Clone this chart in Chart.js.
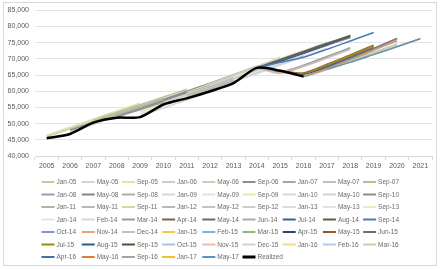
<!DOCTYPE html>
<html>
<head>
<meta charset="utf-8">
<script src="https://cdn.jsdelivr.net/npm/chart.js@4.4.0/dist/chart.umd.min.js"></script>
<style>
  body { margin: 0; background: #fff; }
  canvas { display: block; }
</style>
</head>
<body>
<canvas id="chart" width="441" height="269"></canvas>
<script>
// x axis categories
const years = ['2005','2006','2007','2008','2009','2010','2011','2012','2013','2014','2015','2016','2017','2018','2019','2020','2021'];

// forecast vintages (legend order)
const vintages = [
  'Jan-05','May-05','Sep-05','Jan-06','May-06','Sep-06','Jan-07','May-07','Sep-07',
  'Jan-08','May-08','Sep-08','Jan-09','May-09','Sep-09','Jan-10','May-10','Sep-10',
  'Jan-11','May-11','Sep-11','Jan-12','May-12','Sep-12','Jan-13','May-13','Sep-13',
  'Jan-14','Feb-14','Mar-14','Apr-14','May-14','Jun-14','Jul-14','Aug-14','Sep-14',
  'Oct-14','Nov-14','Dec-14','Jan-15','Feb-15','Mar-15','Apr-15','May-15','Jun-15',
  'Jul-15','Aug-15','Sep-15','Oct-15','Nov-15','Dec-15','Jan-16','Feb-16','Mar-16',
  'Apr-16','May-16','Sep-16','Jan-17','May-17'
];

// each forecast starts in its vintage year
const forecasts2005to2013 = [
  [46000, 48400, 50800, 53200, 55600],
  [46200, 48700, 51200, 53600, 56000],
  [46400, 48900, 51400, 53900, 56400],
  [47300, 49800, 52200, 54600, 57000],
  [47600, 50000, 52500, 54900, 57300],
  [48000, 50400, 52800, 55200, 57700],
  [50300, 52600, 54900, 57200, 59500],
  [50600, 52900, 55300, 57600, 60000],
  [51000, 53400, 55800, 58200, 60600],
  [52000, 54300, 56600, 58900, 61200],
  [52300, 54700, 57100, 59500, 61900],
  [52600, 55000, 57500, 60000, 62400],
  [52400, 54800, 57300, 59700, 62200],
  [53000, 55500, 58000, 60500, 63000],
  [53600, 56100, 58600, 61100, 63700],
  [56000, 58500, 61000, 63500, 66000],
  [56500, 59100, 61700, 64300, 66900],
  [57300, 59900, 62500, 65100, 67700],
  [58200, 60800, 63400, 66000, 68600],
  [58800, 61400, 64000, 66600, 69300],
  [59600, 62300, 65000, 67700, 70400],
  [60400, 63000, 65700, 68300, 71000],
  [61200, 63900, 66600, 69200, 71800],
  [62000, 64700, 67400, 70000, 72600],
  [62800, 65400, 68000, 70600, 73200],
  [63400, 66000, 68600, 71300, 74000],
  [64300, 67000, 69700, 72400, 75200]
];
const forecasts2014 = [
  [67000, 69700, 72400, 75200],
  [67000, 69600, 72200, 74800],
  [67100, 69600, 72100, 74600, 77000],
  [67100, 69400, 71800, 74200, 76600],
  [67200, 69800, 72300, 74800, 77200],
  [67200, 69500, 71900, 74300, 76700],
  [67200, 69200, 71700, 74300, 76900],
  [67200, 69600, 72100, 74600, 77100],
  [67200, 68900, 70500, 72900, 75500, 78100],
  [67200, 66000, 68000, 70700, 73400],
  [67200, 65700, 67800, 70400, 73100],
  [67200, 65500, 67600, 70200, 72900]
];
const forecasts2015 = [
  [66500, 65600, 68000, 70800, 73600],
  [66400, 65400, 67600, 70300, 73000],
  [66400, 65300, 67400, 70100, 72800],
  [66300, 65200, 67500, 70400, 73300],
  [66300, 65600, 68300, 71200, 74200],
  [66300, 65300, 67800, 70600, 73500],
  [66300, 65400, 68200, 71100, 74000],
  [66300, 65000, 67200, 70000, 72900],
  [66300, 64900, 67000, 69700, 72500],
  [66300, 64800, 66900, 69600, 72400],
  [66300, 64700, 66800, 69400, 72200],
  [66300, 64600, 66700, 69300, 72100]
];
const forecasts2016to2017 = [
  [64600, 66900, 69400, 72000, 74600],
  [64600, 66800, 69300, 71900, 74500],
  [64600, 66700, 69200, 71800, 74400],
  [64500, 67200, 70200, 73200, 76300],
  [64500, 67000, 69900, 72900, 76000],
  [64500, 66900, 69700, 72600, 75500],
  [66800, 69000, 71400, 73800, 76300],
  [66800, 68900, 71300, 73700, 76200]
];

const realized = [45500, 46800, 50300, 51800, 52000, 55900, 57800, 60000, 62500, 67200, 66300, 64500];

const colors = [
  '#c8c8a0','#d4d4d4','#dfe4a8','#c9cdd2','#d2ccb4','#8e8e8e','#a6a6a6','#bfbfbf','#bdbd94',
  '#9c9c9c','#858585','#b0ada2','#d6d6d6','#e0e0e0','#e4e8ac','#d8d8cc','#d2d2d2','#8c8c8c',
  '#b5b59c','#b8b8b8','#ccdaa4','#b6babb','#c3c3c3','#cdcdcd','#dcdcdc','#e2e2e2','#e8edc2',
  '#e2e2e2','#d9d9d9','#9a9a9a','#8b5e3c','#6b6b6b','#ababab','#3b5f8c','#5c5c4a','#4a7abc',
  '#7f97c2','#eaa273','#c2c2c2','#f2cb3e','#84aedb','#93ba72','#2b4470','#9e5526','#707070',
  '#9a8a14','#2a5b8a','#3b5c32','#a9c2e2','#f2b9a2','#d2d2d2','#f8d98a','#b3cbe9','#c2d2aa',
  '#4a6bb0','#e37a3a','#a3a3a3','#f2c12a','#5b92cb'
];

const forecasts = forecasts2005to2013.concat(forecasts2014, forecasts2015, forecasts2016to2017);
const total = vintages.length + 1;

const datasets = vintages.map((label, i) => {
  const start = years.indexOf('20' + label.slice(-2));
  const vals = forecasts[i];
  return {
    label: label,
    data: years.map((y, k) => (k >= start && k - start < vals.length) ? vals[k - start] : null),
    borderColor: colors[i],
    backgroundColor: colors[i],
    borderWidth: 1.5,
    order: total - i
  };
});
datasets.push({
  label: 'Realized',
  data: realized,
  borderColor: '#000000',
  backgroundColor: '#000000',
  borderWidth: 2.5,
  order: 0
});

// border + grid legend like the spreadsheet one
const frameAndLegend = {
  id: 'frameAndLegend',
  afterDraw(chart) {
    const ctx = chart.ctx;
    ctx.save();
    ctx.strokeStyle = '#d9d9d9';
    ctx.lineWidth = 1;
    ctx.strokeRect(3.5, 2.5, 433, 263);
    ctx.font = '6.5px "Liberation Sans", Arial, sans-serif';
    ctx.textBaseline = 'middle';
    ctx.fillStyle = '#6b6b6b';
    chart.data.datasets.forEach((ds, i) => {
      const col = i % 9, row = Math.floor(i / 9);
      const x = 41.5 + col * 40.2;
      const y = 182 + row * 12.5;
      ctx.strokeStyle = ds.borderColor;
      ctx.lineWidth = ds.label === 'Realized' ? 3 : 2;
      ctx.beginPath();
      ctx.moveTo(x, y);
      ctx.lineTo(x + 13, y);
      ctx.stroke();
      ctx.fillText(ds.label, x + 15, y + 0.5);
    });
    ctx.restore();
  }
};

new Chart(document.getElementById('chart'), {
  type: 'line',
  data: { labels: years, datasets: datasets },
  plugins: [frameAndLegend],
  options: {
    responsive: false,
    animation: false,
    layout: { padding: { left: 5, right: 9, top: 10, bottom: 95 } },
    elements: {
      point: { radius: 0 },
      line: { tension: 0.25, fill: false }
    },
    plugins: {
      legend: { display: false },
      tooltip: { enabled: false }
    },
    scales: {
      x: {
        offset: true,
        afterFit(scale) { scale.height = 18; },
        grid: { offset: true, drawOnChartArea: false, drawTicks: true, tickLength: 4, color: '#d9d9d9' },
        border: { display: true, color: '#d9d9d9' },
        ticks: { color: '#595959', font: { size: 7, family: '"Liberation Sans", Arial, sans-serif' }, padding: 2, maxRotation: 0, autoSkip: false }
      },
      y: {
        min: 40000,
        max: 85000,
        afterFit(scale) { scale.width = 30; },
        grid: { color: '#e4e4e4', drawTicks: false },
        border: { display: false },
        ticks: {
          stepSize: 5000,
          padding: 6,
          color: '#595959',
          font: { size: 7, family: '"Liberation Sans", Arial, sans-serif' },
          callback: v => v.toLocaleString('en-US')
        }
      }
    }
  }
});
</script>
</body>
</html>
